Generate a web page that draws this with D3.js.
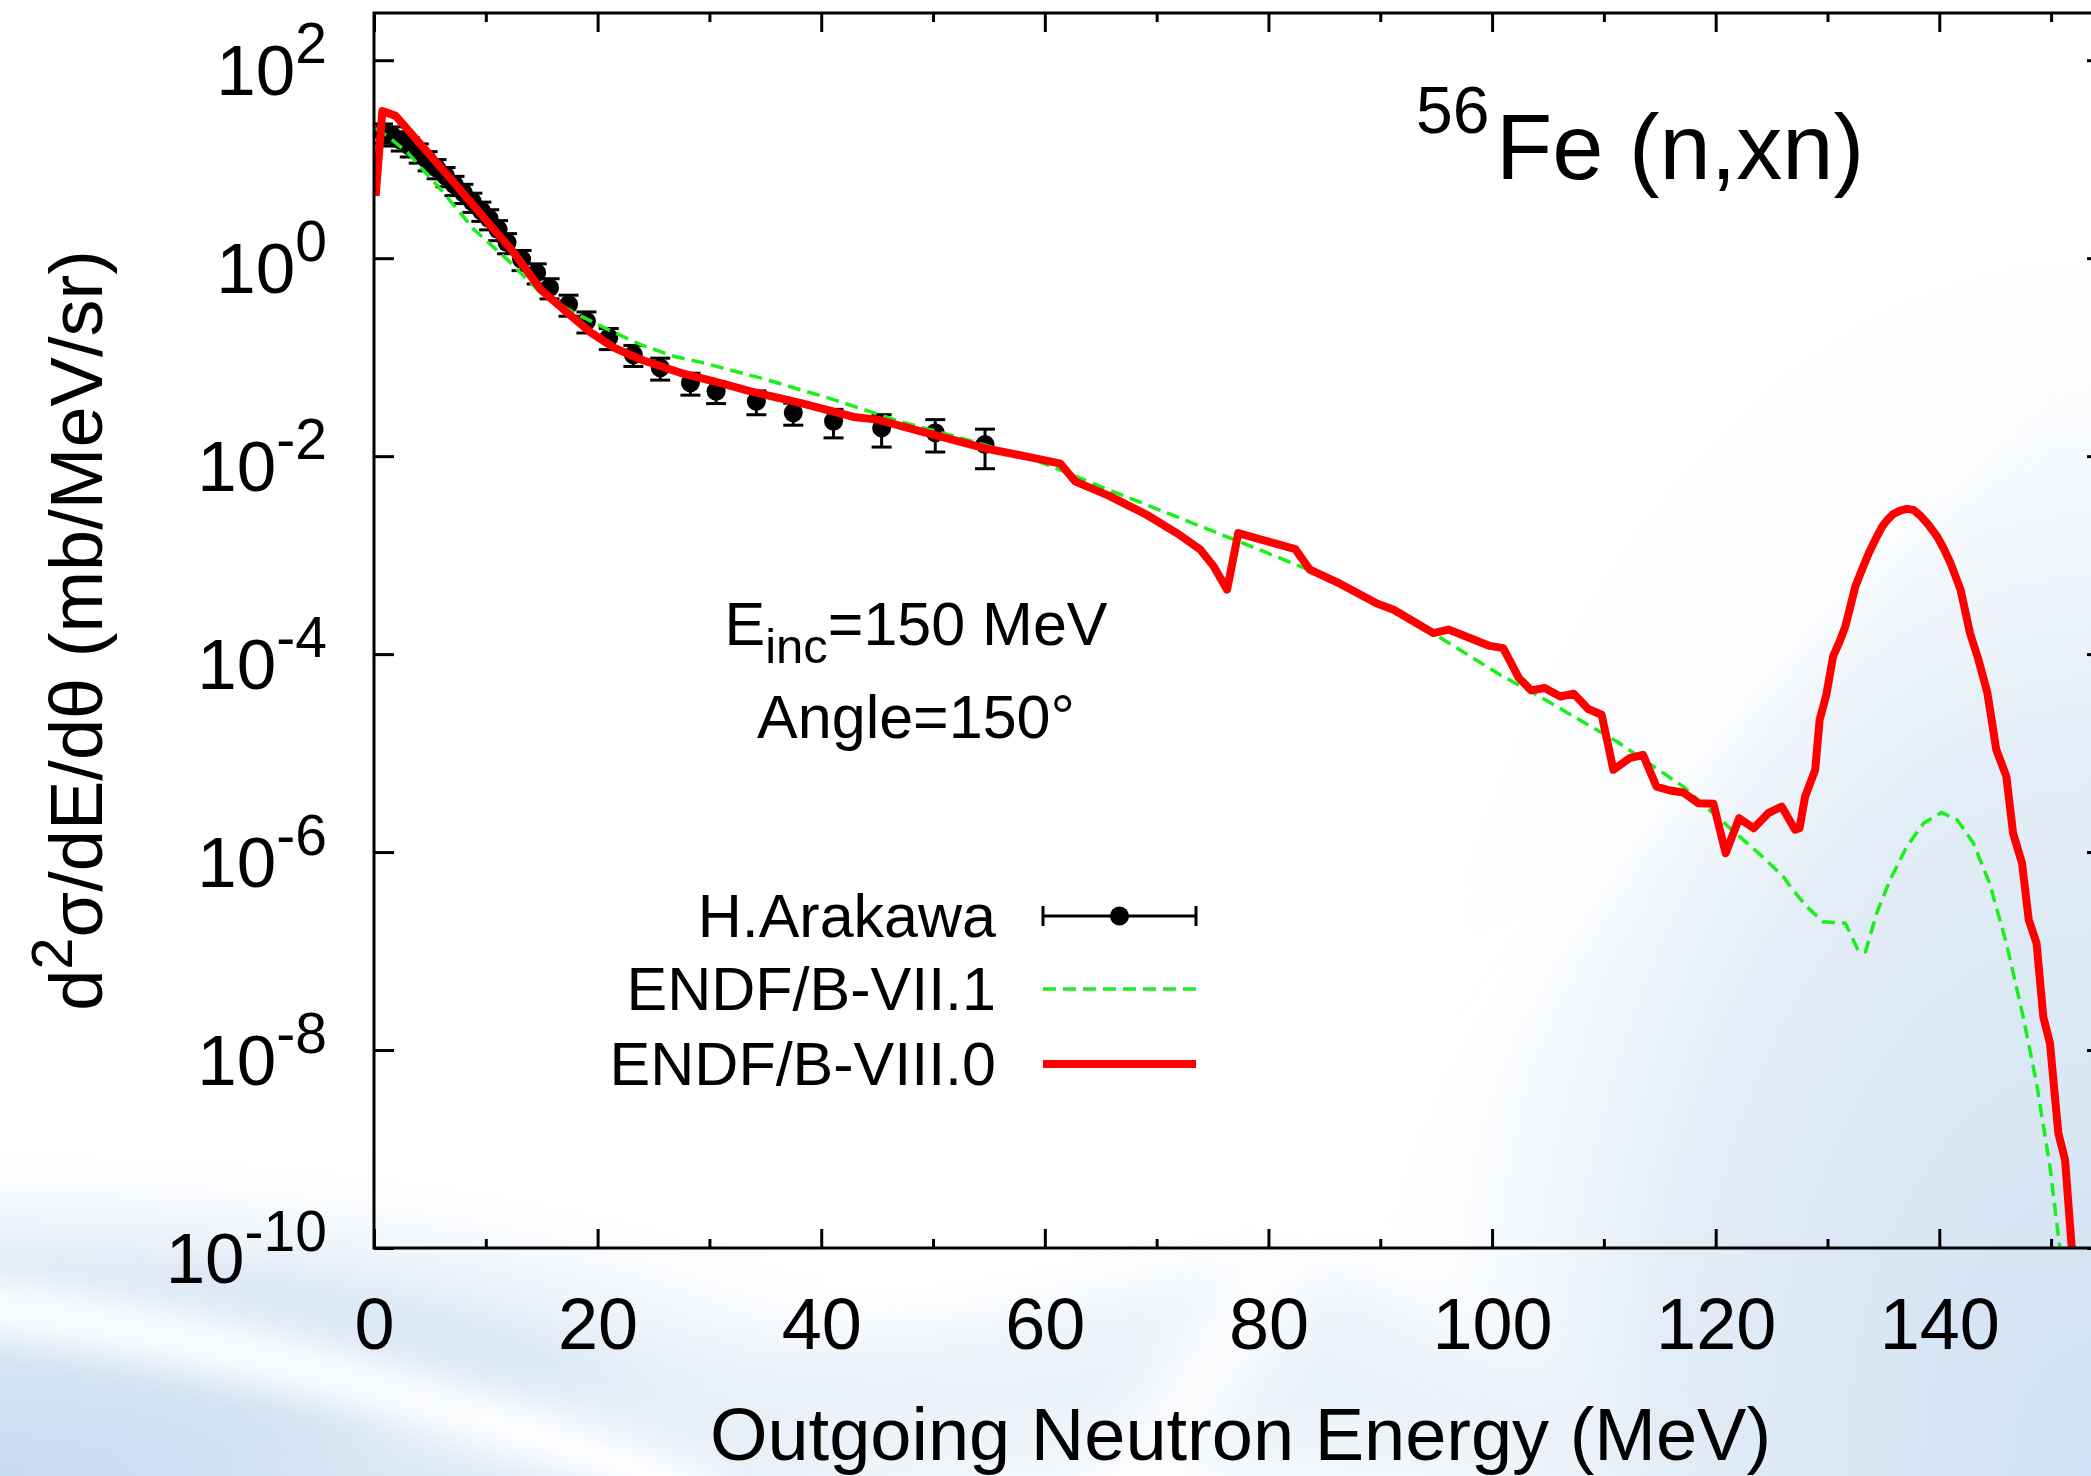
<!DOCTYPE html>
<html>
<head>
<meta charset="utf-8">
<script src="https://cdn.jsdelivr.net/npm/d3@7"></script>
<style>
  html, body { margin: 0; padding: 0; background: #fff; }
  svg { display: block; font-family: "Liberation Sans", Arial, Helvetica, sans-serif; }
</style>
</head>
<body>
<svg width="2091" height="1476"></svg>
<script>
// ENDF/B-VIII.0, outgoing energy (MeV) and d2sigma/dE/dtheta (mb/MeV/sr)
const viii0E = [0.15, 0.75, 1.94, 7.16, 12.5, 14.9, 17.3, 19.4, 21.5, 23.85, 27.4, 30.4, 33.6, 38.1, 42.9, 45.0,
  50.0, 54.5, 58.95, 61.4, 62.7, 65.8, 69.1, 71.8, 73.9, 75.1, 76.3, 77.3, 80.4, 82.4, 83.7, 86.4, 89.7, 91.2,
  94.75, 96.1, 99.8, 101.0, 102.4, 103.5, 104.7, 106.1, 107.3, 108.6, 109.8, 110.85, 112.3, 113.5, 114.7, 115.9,
  117.1, 118.45, 119.8, 120.9, 122.1, 123.4, 124.7, 125.9, 127.1, 127.5, 128.0, 128.9, 129.3, 129.9, 130.5, 131.1,
  131.6, 132.5, 133.1, 133.7, 134.3, 134.9, 135.4, 135.9, 136.5, 137.1, 137.7, 138.3, 139.0, 139.8, 140.4, 141.0,
  141.9, 142.75, 143.5, 144.3, 145.1, 146.0, 146.6, 147.4, 148.0, 148.7, 149.3, 149.9, 150.65, 151.25, 151.85, 152.1];
const viii0V = [4.25, 30.7, 27.4, 5.79, 1.14, 0.483, 0.281, 0.177, 0.124, 0.0948, 0.0695, 0.0571, 0.0453, 0.0346,
  0.0249, 0.0234, 0.0165, 0.0121, 0.00962, 0.00839, 0.00557, 0.00394, 0.00256, 0.00167, 0.00114, 7.7e-4, 4.48e-4,
  1.67e-3, 1.33e-3, 1.15e-3, 7.13e-4, 5.15e-4, 3.24e-4, 2.81e-4, 1.63e-4, 1.77e-4, 1.21e-4, 1.15e-4, 5.73e-5,
  4.30e-5, 4.54e-5, 3.73e-5, 3.98e-5, 2.79e-5, 2.44e-5, 6.78e-6, 8.89e-6, 9.62e-6, 4.59e-6, 4.19e-6, 4.0e-6,
  3.12e-6, 3.07e-6, 9.75e-7, 2.2e-6, 1.74e-6, 2.47e-6, 2.88e-6, 1.68e-6, 1.74e-6, 3.64e-6, 6.78e-6, 2.17e-5,
  3.89e-5, 9.48e-5, 1.35e-4, 1.91e-4, 4.84e-4, 7.2e-4, 1.05e-3, 1.45e-3, 1.95e-3, 2.3e-3, 2.61e-3, 2.82e-3,
  2.93e-3, 2.86e-3, 2.51e-3, 2.05e-3, 1.55e-3, 1.16e-3, 8.34e-4, 4.48e-4, 1.63e-4, 8.8e-5, 4.07e-5, 1.08e-5,
  5.81e-6, 1.55e-6, 7.73e-7, 2.07e-7, 1.2e-7, 2.17e-8, 1.17e-8, 1.44e-9, 7.73e-10, 1.0e-10, 5.0e-11];

// ENDF/B-VII.1
const vii1E = [0.1, 1.25, 3.0, 5.96, 8.94, 11.9, 14.9, 17.9, 20.9, 23.85, 26.8, 29.2, 35.1, 41.1, 47.0, 53.0,
  59.0, 62.9, 64.9, 76.9, 85.8, 94.7, 100.7, 103.7, 111.15, 117.1, 120.1, 124.0, 126.05, 126.9, 128.15, 129.6,
  131.6, 132.8, 133.4, 134.4, 135.6, 137.1, 138.6, 140.2, 141.6, 143.05, 144.5, 146.0, 147.5, 148.7, 149.9, 150.8];
const vii1V = [20.4, 17.0, 11.7, 4.97, 1.95, 0.973, 0.448, 0.281, 0.191, 0.134, 0.102, 0.0891, 0.0594, 0.0373,
  0.0225, 0.0147, 0.00925, 0.00617, 0.00497, 0.00144, 5.65e-4, 1.63e-4, 6.19e-5, 4.05e-5, 1.31e-5, 4.59e-6,
  2.29e-6, 9.38e-7, 5.65e-7, 4.15e-7, 2.81e-7, 1.98e-7, 1.91e-7, 9.86e-8, 9.86e-8, 2.41e-7, 5.24e-7, 1.14e-6,
  1.96e-6, 2.51e-6, 2.12e-6, 1.23e-6, 4.84e-7, 1.2e-7, 2.17e-8, 4.6e-9, 6.6e-10, 9.5e-11];

// H.Arakawa measurement: energy, value, relative uncertainty
const expE = [0.8, 1.6, 2.4, 3.2, 4.0, 4.8, 5.6, 6.4, 7.2, 8.0, 8.8, 9.6, 10.3, 11.1, 11.9, 13.2, 14.55, 15.7,
  17.4, 19.0, 21.0, 23.2, 25.6, 28.3, 30.6, 34.2, 37.5, 41.1, 45.4, 50.2, 54.65];
const expV = [18.6, 17.4, 15.5, 13.5, 11.7, 9.77, 8.13, 6.76, 5.5, 4.57, 3.72, 3.02, 2.51, 1.95, 1.44, 0.973,
  0.713, 0.504, 0.341, 0.231, 0.157, 0.106, 0.0782, 0.0551, 0.0453, 0.0359, 0.0274, 0.0225, 0.0193, 0.0172, 0.0131];
const expErr = [0.22, 0.22, 0.22, 0.22, 0.22, 0.22, 0.22, 0.22, 0.22, 0.22, 0.22, 0.22, 0.23, 0.23, 0.23, 0.23,
  0.23, 0.23, 0.24, 0.24, 0.24, 0.24, 0.25, 0.25, 0.25, 0.27, 0.25, 0.32, 0.36, 0.36, 0.43];

const xMajor = [0, 20, 40, 60, 80, 100, 120, 140];
const xMinor = [10, 30, 50, 70, 90, 110, 130, 150];
const yMajor = [1e-10, 1e-8, 1e-6, 1e-4, 1e-2, 1e0, 1e2];

const svg = d3.select("svg");
const W = 2091, H = 1476;
const pL = 374, pR = 2107, pT = 13, pB = 1248;

const x = d3.scaleLinear().domain([0, 155]).range([pL, pR]);
const y = d3.scaleLog().domain([1e-10, 300]).range([pB, pT]);

// ---- slide background ----
const defs = svg.append("defs");
const blur = (id, s) => defs.append("filter").attr("id", id)
  .attr("x", "-30%").attr("y", "-30%").attr("width", "160%").attr("height", "160%")
  .append("feGaussianBlur").attr("stdDeviation", s);
blur("soft", 30);
blur("softer", 18);

const rg = defs.append("radialGradient").attr("id", "cornerR")
  .attr("gradientUnits", "userSpaceOnUse").attr("cx", 2091).attr("cy", 1476).attr("r", 1000)
  .attr("gradientTransform", "translate(2091,1476) scale(0.8,1.35) translate(-2091,-1476)");
rg.append("stop").attr("offset", 0).attr("stop-color", "#cfe1f2");
rg.append("stop").attr("offset", 0.55).attr("stop-color", "#e3edf7");
rg.append("stop").attr("offset", 1).attr("stop-color", "#ffffff").attr("stop-opacity", 0);

const lg = defs.append("radialGradient").attr("id", "cornerL")
  .attr("gradientUnits", "userSpaceOnUse").attr("cx", 0).attr("cy", 1476).attr("r", 700)
  .attr("gradientTransform", "translate(0,1476) scale(1.6,0.5) translate(0,-1476)");
lg.append("stop").attr("offset", 0).attr("stop-color", "#c8dcef");
lg.append("stop").attr("offset", 0.6).attr("stop-color", "#dde9f5");
lg.append("stop").attr("offset", 1).attr("stop-color", "#ffffff").attr("stop-opacity", 0);

const bg = svg.append("g");
bg.append("rect").attr("width", W).attr("height", H).attr("fill", "#fff");
bg.append("rect").attr("width", W).attr("height", H).attr("fill", "url(#cornerR)");
bg.append("rect").attr("width", W).attr("height", H).attr("fill", "url(#cornerL)");
bg.append("path")
  .attr("d", "M250,1476 C600,1360 1000,1330 1300,1250 L1700,1476 Z")
  .attr("fill", "#e8f0f8").attr("opacity", 0.8).attr("filter", "url(#soft)");
// white sweeps
bg.append("path")
  .attr("d", "M-60,1300 C200,1330 450,1400 720,1500")
  .attr("fill", "none").attr("stroke", "#fff").attr("stroke-width", 55)
  .attr("opacity", 0.95).attr("filter", "url(#softer)");
bg.append("path")
  .attr("d", "M1120,1520 C1300,1200 1600,800 2000,380")
  .attr("fill", "none").attr("stroke", "#fff").attr("stroke-width", 70)
  .attr("opacity", 0.9).attr("filter", "url(#soft)");

// ---- plot ----
defs.append("clipPath").attr("id", "plotClip")
  .append("rect").attr("x", pL).attr("y", pT).attr("width", pR - pL).attr("height", pB - pT);

const line = d3.line().x(d => x(d[0])).y(d => y(d[1]));
const plot = svg.append("g").attr("clip-path", "url(#plotClip)");

// experimental points with error bars
const exp = d3.zip(expE, expV, expErr);
const pts = plot.append("g").selectAll("g").data(exp).enter().append("g");
pts.append("line")
  .attr("x1", d => x(d[0])).attr("x2", d => x(d[0]))
  .attr("y1", d => y(d[1] * (1 + d[2]))).attr("y2", d => y(d[1] * (1 - d[2])))
  .attr("stroke", "#000").attr("stroke-width", 3);
[1, -1].forEach(s => {
  pts.append("line")
    .attr("x1", d => x(d[0]) - 10).attr("x2", d => x(d[0]) + 10)
    .attr("y1", d => y(d[1] * (1 + s * d[2]))).attr("y2", d => y(d[1] * (1 + s * d[2])))
    .attr("stroke", "#000").attr("stroke-width", 3);
});
pts.append("circle")
  .attr("cx", d => x(d[0])).attr("cy", d => y(d[1])).attr("r", 9.5).attr("fill", "#000");

plot.append("path").datum(d3.zip(vii1E, vii1V)).attr("d", line)
  .attr("fill", "none").attr("stroke", "#19f019").attr("stroke-width", 3.5)
  .attr("stroke-dasharray", "13,7");
plot.append("path").datum(d3.zip(viii0E, viii0V)).attr("d", line)
  .attr("fill", "none").attr("stroke", "#ff0000").attr("stroke-width", 8)
  .attr("stroke-linejoin", "round");

// ---- axes ----
const axes = svg.append("g");
const tickStyle = g => { g.select(".domain").remove(); g.selectAll("line").attr("stroke", "#000").attr("stroke-width", 3); };

axes.append("g").attr("transform", `translate(0,${pB})`)
  .call(d3.axisBottom(x).tickValues(xMajor).tickSize(-19).tickFormat(d3.format("d")))
  .call(tickStyle)
  .call(g => g.selectAll("text").attr("dy", null).attr("y", 101)
    .attr("font-size", 72).attr("fill", "#000"))
  .attr("font-family", null);
axes.append("g").attr("transform", `translate(0,${pB})`)
  .call(d3.axisBottom(x).tickValues(xMinor).tickSize(-9).tickFormat(""))
  .call(tickStyle);
axes.append("g").attr("transform", `translate(0,${pT})`)
  .call(d3.axisTop(x).tickValues(xMajor).tickSize(-19).tickFormat(""))
  .call(tickStyle);
axes.append("g").attr("transform", `translate(0,${pT})`)
  .call(d3.axisTop(x).tickValues(xMinor).tickSize(-9).tickFormat(""))
  .call(tickStyle);
axes.append("g").attr("transform", `translate(${pL},0)`)
  .call(d3.axisLeft(y).tickValues(yMajor).tickSize(-20).tickFormat(""))
  .call(tickStyle);
axes.append("g").attr("transform", `translate(${pR},0)`)
  .call(d3.axisRight(y).tickValues(yMajor).tickSize(-20).tickFormat(""))
  .call(tickStyle);

svg.append("rect").attr("x", pL).attr("y", pT).attr("width", pR - pL).attr("height", pB - pT)
  .attr("fill", "none").attr("stroke", "#000").attr("stroke-width", 3);

// y tick labels: 10^n
const yLab = svg.append("g").selectAll("text").data(yMajor).enter().append("text")
  .attr("x", 327).attr("y", d => y(d) + 35).attr("text-anchor", "end").attr("font-size", 71);
yLab.append("tspan").text("10");
yLab.append("tspan").attr("dy", -32).attr("font-size", 57).text(d => Math.round(Math.log10(d)));

// axis titles
svg.append("text").attr("x", (pL + pR) / 2).attr("y", 1460).attr("text-anchor", "middle")
  .attr("font-size", 74).text("Outgoing Neutron Energy (MeV)");

const yt = svg.append("text").attr("transform", `translate(102,${(pT + pB) / 2}) rotate(-90)`)
  .attr("text-anchor", "middle").attr("font-size", 74);
yt.append("tspan").text("d");
yt.append("tspan").attr("dy", -30).attr("font-size", 58).text("2");
yt.append("tspan").attr("dy", 30).text("σ/dE/dθ (mb/MeV/sr)");

// reaction label
const ttl = svg.append("text").attr("x", 1416).attr("y", 179);
ttl.append("tspan").attr("font-size", 66).attr("dy", -46).text("56");
ttl.append("tspan").attr("font-size", 92).attr("dy", 46).attr("x", 1496).text("Fe (n,xn)");

// incident energy and angle
const ann = svg.append("text").attr("x", 916).attr("y", 645).attr("text-anchor", "middle").attr("font-size", 61);
ann.append("tspan").text("E");
ann.append("tspan").attr("dy", 18).attr("font-size", 49).text("inc");
ann.append("tspan").attr("dy", -18).text("=150 MeV");
svg.append("text").attr("x", 916).attr("y", 738).attr("text-anchor", "middle").attr("font-size", 61)
  .text("Angle=150°");

// ---- legend ----
const legendNames = ["H.Arakawa", "ENDF/B-VII.1", "ENDF/B-VIII.0"];
const legendY = [916, 989, 1064];
const leg = svg.append("g");
leg.selectAll("text").data(legendNames).enter().append("text")
  .attr("x", 996).attr("y", (d, i) => legendY[i] + 21).attr("text-anchor", "end").attr("font-size", 61)
  .text(d => d);
const lx0 = 1043, lx1 = 1196;
leg.append("line").attr("x1", lx0).attr("x2", lx1).attr("y1", legendY[0]).attr("y2", legendY[0])
  .attr("stroke", "#000").attr("stroke-width", 3);
[lx0, lx1].forEach(v => leg.append("line").attr("x1", v).attr("x2", v)
  .attr("y1", legendY[0] - 10).attr("y2", legendY[0] + 10).attr("stroke", "#000").attr("stroke-width", 3));
leg.append("circle").attr("cx", (lx0 + lx1) / 2).attr("cy", legendY[0]).attr("r", 9.5);
leg.append("line").attr("x1", lx0).attr("x2", lx1).attr("y1", legendY[1]).attr("y2", legendY[1])
  .attr("stroke", "#19f019").attr("stroke-width", 3.5).attr("stroke-dasharray", "13,7");
leg.append("line").attr("x1", lx0).attr("x2", lx1).attr("y1", legendY[2]).attr("y2", legendY[2])
  .attr("stroke", "#ff0000").attr("stroke-width", 8);
</script>
</body>
</html>
